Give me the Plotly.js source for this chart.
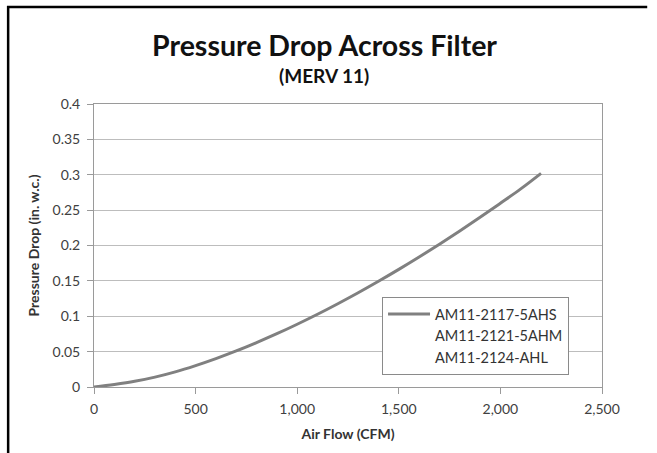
<!DOCTYPE html>
<html>
<head>
<meta charset="utf-8">
<script src="https://cdn.plot.ly/plotly-3.0.1.min.js"></script>
<style>html,body{margin:0;padding:0;background:#fff;}#chart{width:657px;height:453px;}</style>
</head>
<body>
<div id="chart"></div>
<script>
const airFlow = [0,100,200,300,400,500,600,700,800,900,1000,1100,1200,1300,1400,1500,1600,1700,1800,1900,2000,2100,2200];
const pressureDrop = [0,0.0036,0.0080,0.0140,0.0214,0.0303,0.0402,0.0510,0.0628,0.0753,0.0887,0.1028,0.1177,0.1332,0.1494,0.1662,0.1837,0.2018,0.2205,0.2398,0.2597,0.2800,0.3020];
const seriesNames = ["AM11-2117-5AHS","AM11-2121-5AHM","AM11-2124-AHL"];
const xTicks = [0,500,1000,1500,2000,2500];
const xTickLabels = ["0","500","1,000","1,500","2,000","2,500"];
const yTicks = [0,0.05,0.1,0.15,0.2,0.25,0.3,0.35,0.4];
const yTickLabels = ["0","0.05","0.1","0.15","0.2","0.25","0.3","0.35","0.4"];
const titleText = "Pressure Drop Across Filter";
const subtitleText = "(MERV 11)";

const FONT = "Lato, 'Open Sans', sans-serif";
const traces = [
  {x: airFlow, y: pressureDrop, name: seriesNames[0], mode: "lines", line: {color: "#808080", width: 3, shape: "spline"}, hoverinfo: "x+y"},
  {x: [null], y: [null], name: seriesNames[1], mode: "lines", line: {color: "rgba(0,0,0,0)", width: 3}},
  {x: [null], y: [null], name: seriesNames[2], mode: "lines", line: {color: "rgba(0,0,0,0)", width: 3}}
];
const layout = {
  width: 657, height: 453,
  margin: {l: 94, r: 55, t: 104, b: 66},
  paper_bgcolor: "#fff", plot_bgcolor: "#fff",
  font: {family: FONT, color: "#404040", size: 14},
  xaxis: {
    range: [0, 2500], tickvals: xTicks, ticktext: xTickLabels,
    showgrid: false, zeroline: false, showline: true, linecolor: "#9a9a9a", linewidth: 1, mirror: true,
    ticks: "outside", ticklen: 6, tickcolor: "#9a9a9a", ticklabelstandoff: 3,
    tickfont: {family: FONT, size: 14, color: "#404040"},
    title: {text: "<b>Air Flow (CFM)</b>", font: {family: FONT, size: 14, color: "#333"}, standoff: 13}
  },
  yaxis: {
    range: [0, 0.4], tickvals: yTicks, ticktext: yTickLabels,
    showgrid: true, gridcolor: "#bdbdbd", gridwidth: 1, zeroline: false,
    showline: true, linecolor: "#9a9a9a", linewidth: 1, mirror: true,
    ticks: "outside", ticklen: 6, tickcolor: "#9a9a9a", ticklabelstandoff: 4,
    tickfont: {family: FONT, size: 14, color: "#404040"},
    title: {text: "<b>Pressure Drop (in. w.c.)</b>", font: {family: FONT, size: 14, color: "#333"}, standoff: 9}
  },
  legend: {
    x: 0.567, y: 0.318, xanchor: "left", yanchor: "top",
    bgcolor: "#fff", bordercolor: "#8a8a8a", borderwidth: 1, itemwidth: 42,
    font: {family: FONT, size: 14.5, color: "#333"}, tracegroupgap: 0
  },
  annotations: [
    {text: "<b>" + titleText + "</b>", xref: "paper", yref: "paper", x: 0.453, y: 1.21, xanchor: "center", yanchor: "middle", showarrow: false, font: {family: FONT, size: 28.5, color: "#111"}},
    {text: "<b>" + subtitleText + "</b>", xref: "paper", yref: "paper", x: 0.453, y: 1.1, xanchor: "center", yanchor: "middle", showarrow: false, font: {family: FONT, size: 19, color: "#111"}}
  ],
  shapes: [
    {type: "path", xref: "paper", yref: "paper", path: "M -0.169 -0.3 L -0.169 1.343 L 1.089 1.343", line: {color: "#000", width: 2.5}}
  ],
  showlegend: true
};
Plotly.newPlot("chart", traces, layout, {displayModeBar: false, staticPlot: true});
</script>
</body>
</html>
